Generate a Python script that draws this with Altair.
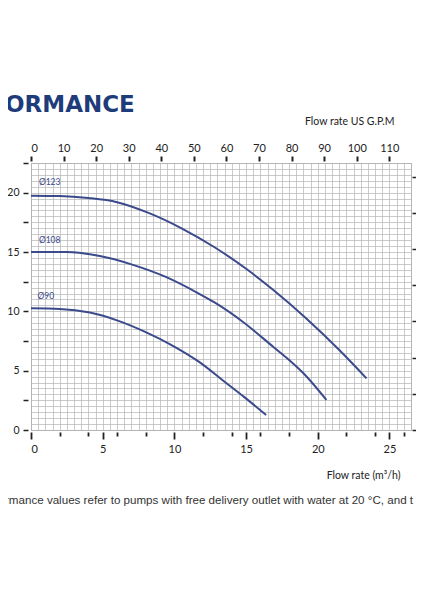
import altair as alt
import pandas as pd

# ---- data (flow m3/h, head m) ----
q123 = [0, 2, 4, 6, 8.2, 10.5, 12.8, 15.1, 16.9, 19.2, 21.5, 23.4]
h123 = [19.75, 19.72, 19.55, 19.2, 18.3, 17.0, 15.4, 13.5, 11.8, 9.4, 6.74, 4.35]
q108 = [0, 2.5, 4.8, 7.0, 9.4, 11.7, 12.8, 14.9, 16.9, 18.0, 19.0, 20.6]
h108 = [15.0, 15.0, 14.66, 13.96, 12.9, 11.5, 10.75, 9.0, 7.0, 5.9, 4.78, 2.53]
q90 = [0, 2, 4.1, 6.1, 8.0, 9.8, 11.7, 13.5, 14.9, 16.4]
h90 = [10.25, 10.2, 9.9, 9.2, 8.25, 7.16, 5.76, 4.07, 2.75, 1.26]

impellers = ["Ø123", "Ø108", "Ø90"]
label_q = [0.55, 0.55, 0.45]
label_h = [20.5, 15.55, 10.9]

gpm_ticks = [0, 10, 20, 30, 40, 50, 60, 70, 80, 90, 100, 110]
ft_ticks = [0, 10, 20, 30, 40, 50, 60, 70]

X_MAX = 26.5
Y_MAX = 22.5
grid_x = [i * 0.5 for i in range(int(X_MAX * 2) + 1)]
grid_y = [i * 0.5 for i in range(int(Y_MAX * 2) + 1)]

rows = []
for name, qs, hs in [("Ø123", q123, h123), ("Ø108", q108, h108), ("Ø90", q90, h90)]:
    for q, h in zip(qs, hs):
        rows.append({"curve": name, "q": q, "h": h})
df = pd.DataFrame(rows)
lab = pd.DataFrame({"curve": impellers, "q": label_q, "h": label_h})

CURVE = "#3b4a8c"
GRID = "#b4b4b4"
INK = "#222222"
FONT = "Lato"

xscale = alt.Scale(domain=[0, X_MAX], nice=False, zero=False)
yscale = alt.Scale(domain=[0, Y_MAX], nice=False, zero=False)

xaxis = alt.Axis(
    values=grid_x, orient="bottom", grid=True, gridColor=GRID, gridWidth=0.7,
    domain=False, offset=2,
    labelExpr="datum.value % 5 === 0 ? '' + datum.value : ''",
    tickSize={"condition": {"test": "datum.value % 5 === 0", "value": 7},
              "value": 4},
    tickOpacity={"condition": {"test": "datum.value % 2 === 0 || datum.value % 5 === 0", "value": 1},
                 "value": 0},
    tickWidth=1.8, tickColor=INK, labelPadding=4, labelFontSize=11,
    labelColor=INK, labelFont=FONT,
    title="Flow rate  (m³/h)", titleX=369, titleY=38, titleAlign="right",
    titleFontWeight="normal", titleFontSize=10.5, titleColor=INK, titleFont=FONT,
)
yaxis = alt.Axis(
    values=grid_y, orient="left", grid=True, gridColor=GRID, gridWidth=0.7,
    domain=False, offset=3,
    labelExpr="datum.value % 5 === 0 ? '' + datum.value : ''",
    tickOpacity={"condition": {"test": "datum.value % 2.5 === 0", "value": 1},
                 "value": 0},
    tickSize=5, tickWidth=1.5, tickColor=INK, labelPadding=4, labelFontSize=10.5,
    labelColor=INK, labelFont=FONT, title=None,
)

curves = alt.Chart(df).mark_line(color=CURVE, strokeWidth=2, interpolate="monotone").encode(
    x=alt.X("q:Q", scale=xscale, axis=xaxis),
    y=alt.Y("h:Q", scale=yscale, axis=yaxis),
    detail="curve:N",
)
labels = alt.Chart(lab).mark_text(
    align="left", baseline="bottom", fontSize=8.5, color=CURVE, font=FONT
).encode(
    x=alt.X("q:Q", scale=xscale, axis=xaxis),
    y=alt.Y("h:Q", scale=yscale, axis=yaxis),
    text="curve:N",
)
main = alt.layer(curves, labels)

sec = pd.DataFrame({"gpm": gpm_ticks[:8], "ft": ft_ticks})
hidden = alt.Chart(sec).mark_point(opacity=0).encode(
    x=alt.X("gpm:Q", scale=alt.Scale(domain=[0, X_MAX * 4.40287], nice=False),
            axis=alt.Axis(values=gpm_ticks, orient="top", grid=False, domain=False,
                          offset=2, tickSize=5, tickWidth=2, tickColor=INK,
                          labelPadding=3, labelFontSize=11, labelColor=INK, labelFont=FONT,
                          title="Flow rate US  G.P.M", titleX=363, titleY=-35,
                          titleAlign="right", titleFontWeight="normal",
                          titleFontSize=10.5, titleColor=INK, titleFont=FONT)),
    y=alt.Y("ft:Q", scale=alt.Scale(domain=[0, Y_MAX * 3.28084], nice=False),
            axis=alt.Axis(values=ft_ticks, orient="right", grid=False, domain=False,
                          offset=1, tickSize=4, tickWidth=1.5, tickColor=INK,
                          labels=False, title=None)),
)

one = pd.DataFrame({"a": [1]})
header = alt.Chart(one).mark_text(
    text="ORMANCE", align="left", baseline="alphabetic", fontSize=23,
    fontWeight="bold", color="#1f3c7a", font="DejaVu Sans"
).encode(x=alt.value(-26), y=alt.value(-51))
note = alt.Chart(one).mark_text(
    text="rmance values refer to pumps with free delivery outlet with water at 20 °C, and t",
    align="left", baseline="middle", fontSize=11.6, color="#333333", font="Liberation Sans"
).encode(x=alt.value(-26), y=alt.value(338))

chart = alt.layer(main, hidden, header, note).resolve_scale(
    x="independent", y="independent"
).properties(
    width=380, height=267,
    autosize=alt.AutoSizeParams(type="none"),
    padding={"left": 23, "top": 155, "right": 5, "bottom": 150},
    background="white",
).configure_view(stroke=GRID, strokeWidth=1)

chart.save("out.html", embed_options={"renderer": "svg", "actions": False})
